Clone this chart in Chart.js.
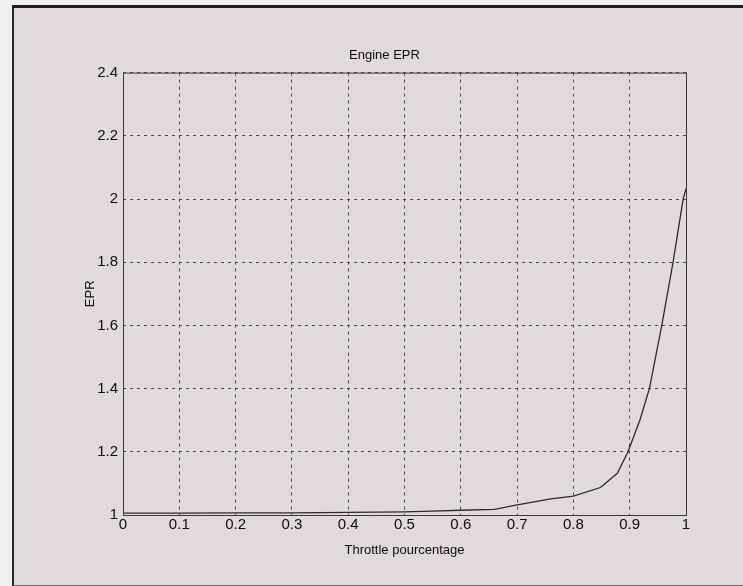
<!DOCTYPE html>
<html>
<head>
<meta charset="utf-8">
<script src="https://cdn.jsdelivr.net/npm/chart.js@4/dist/chart.umd.min.js"></script>
<style>
  html, body { margin: 0; padding: 0; background: #f1efef; }
  #frame {
    position: absolute; left: 12px; top: 5px; width: 740px; height: 577px;
    background: #dedadd;
    border-top: 3px solid #1e1e1e; border-left: 2px solid #2a2a2a; border-bottom: 2px solid #666;
  }
  #wrap { position: absolute; left: 0; top: 0; width: 743px; height: 586px; }
</style>
</head>
<body>
<div id="frame"></div>
<div id="wrap"><canvas id="eprChart" width="743" height="586"></canvas></div>
<script>
// Engine EPR vs throttle
const throttle = [0, 0.1, 0.2, 0.3, 0.4, 0.5, 0.55, 0.6, 0.66, 0.7, 0.76, 0.8, 0.848, 0.878, 0.897, 0.918, 0.935, 0.957, 0.977, 0.995, 1];
const epr = [1.006, 1.006, 1.007, 1.007, 1.008, 1.010, 1.012, 1.015, 1.018, 1.032, 1.051, 1.060, 1.087, 1.132, 1.20, 1.30, 1.40, 1.60, 1.80, 2.00, 2.033];
const xTicks = [0, 0.1, 0.2, 0.3, 0.4, 0.5, 0.6, 0.7, 0.8, 0.9, 1];
const yTicks = [1, 1.2, 1.4, 1.6, 1.8, 2, 2.2, 2.4];

const FONT = '"Liberation Sans", Arial, sans-serif';
const INK = '#0d0d0d';

// solid box round the plot area, like matlab's axes
const boxPlugin = {
  id: 'axesBox',
  afterDraw(chart) {
    const { ctx, chartArea: a } = chart;
    ctx.save();
    ctx.strokeStyle = '#3a3a3a';
    ctx.lineWidth = 1;
    ctx.setLineDash([]);
    ctx.strokeRect(a.left + 0.5, a.top + 0.5, a.right - a.left, a.bottom - a.top);
    ctx.restore();
  }
};

const ctx = document.getElementById('eprChart').getContext('2d');
new Chart(ctx, {
  type: 'line',
  data: {
    datasets: [{
      data: throttle.map((t, i) => ({ x: t, y: epr[i] })),
      borderColor: '#2b2b2b',
      borderWidth: 1.3,
      pointRadius: 0,
      tension: 0,
      fill: false
    }]
  },
  options: {
    responsive: false,
    animation: false,
    layout: { padding: { left: 83, right: 57, top: 0, bottom: 28 } },
    plugins: {
      legend: { display: false },
      tooltip: { enabled: false },
      title: {
        display: true,
        text: 'Engine EPR',
        color: INK,
        font: { family: FONT, size: 13, weight: 'normal' },
        padding: { top: 48, bottom: 9 }
      }
    },
    scales: {
      x: {
        type: 'linear',
        min: 0, max: 1,
        afterBuildTicks: s => { s.ticks = xTicks.map(v => ({ value: v })); },
        afterFit: s => { s.height = 43; },
        ticks: {
          color: INK, font: { family: FONT, size: 15 }, padding: 1, maxRotation: 0,
          callback: v => String(v)
        },
        grid: { color: '#4a4a4a', lineWidth: 1, drawTicks: false },
        border: { display: false, dash: [3, 4] },
        title: {
          display: true, text: 'Throttle pourcentage', color: INK,
          font: { family: FONT, size: 13 }, padding: 0
        }
      },
      y: {
        type: 'linear',
        min: 1, max: 2.4,
        afterBuildTicks: s => { s.ticks = yTicks.map(v => ({ value: v })); },
        afterFit: s => { s.width = 40; },
        ticks: {
          color: INK, font: { family: FONT, size: 15 }, padding: 5,
          callback: v => String(v)
        },
        grid: { color: '#4a4a4a', lineWidth: 1, drawTicks: false },
        border: { display: false, dash: [3, 4] },
        title: {
          display: true, text: 'EPR', color: INK,
          font: { family: FONT, size: 13 }, padding: 0
        }
      }
    }
  },
  plugins: [boxPlugin]
});
</script>
</body>
</html>
